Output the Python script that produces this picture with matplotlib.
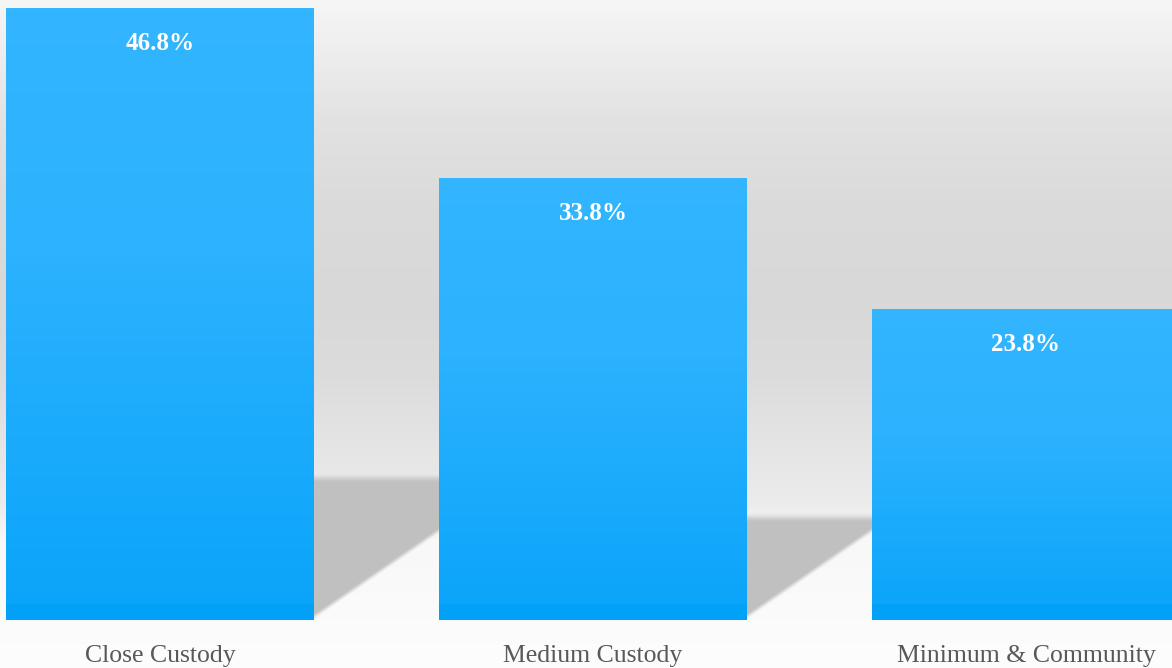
"""
Custody level bar chart with a soft wall/floor backdrop and cast shadows.
Output: out.png
"""

import numpy as np
import matplotlib
matplotlib.use("Agg")
import matplotlib.pyplot as plt
from matplotlib.colors import LinearSegmentedColormap

categories = ["Close Custody", "Medium Custody", "Minimum & Community"]
values = [46.8, 33.8, 23.8]
value_labels = ["46.8%", "33.8%", "23.8%"]

W, H, DPI = 1172, 668, 100
BASE_PX = 620          # baseline, pixels from the top
PX_PER_UNIT = 13.06    # vertical scale, pixels per percent
SLOT_PX = 433          # distance between category centres
BAR_PX = 308
FIRST_CENTER_PX = 160
BAND_PX = 16           # darker strip at the foot of each bar


def smooth(t):
    t = np.clip(t, 0, 1)
    return t * t * (3 - 2 * t)


fig = plt.figure(figsize=(W / DPI, H / DPI), dpi=DPI)

# backdrop: grey wall fading into a pale floor
bg_ax = fig.add_axes([0, 0, 1, 1])
stop_y = [0, 50, 120, 200, 300, 380, 440, 505, 540, 620, 668]
stop_v = [246, 238, 226, 219, 216, 220, 228, 236, 248, 251, 253]
rows = np.interp(np.arange(H), stop_y, stop_v) / 255
bg = np.repeat(rows[:, None], 4, axis=1)
bg_ax.imshow(np.dstack([bg, bg, bg]), aspect="auto", extent=[0, 1, 0, 1], origin="upper")
bg_ax.axis("off")

# chart axes: baseline at BASE_PX, full width
ax = fig.add_axes([0, (H - BASE_PX) / H, 1, BASE_PX / H])
ax.patch.set_visible(False)
ymax = BASE_PX / PX_PER_UNIT
xmin = -FIRST_CENTER_PX / SLOT_PX
xmax = (W - FIRST_CENTER_PX) / SLOT_PX

x = np.arange(len(categories))
bars = ax.bar(x, values, width=BAR_PX / SLOT_PX, color="none", zorder=3)

# cast shadows behind each bar
gx = np.linspace(xmin, xmax, W)
gy = np.linspace(0, ymax, BASE_PX)
X, Y = np.meshgrid(gx, gy)
slope = 0.69 * SLOT_PX / PX_PER_UNIT
alpha = np.zeros_like(X)
for p, v in zip(bars, values):
    xr = p.get_x() + p.get_width()
    top = 0.232 * v
    a_top = smooth((top - Y) / 0.8 + 0.5)
    a_diag = smooth((Y - 0.23 - slope * (X - xr)) / 0.55 + 0.5)
    alpha = np.maximum(alpha, a_top * a_diag * (X >= xr))
shade = np.zeros((BASE_PX, W, 4))
shade[..., :3] = 0.753
shade[..., 3] = alpha
ax.imshow(shade, extent=[xmin, xmax, 0, ymax], origin="lower", aspect="auto",
          zorder=1, interpolation="bilinear")

# gradient fill for the bars: light top, deeper towards the foot
bar_cmap = LinearSegmentedColormap.from_list(
    "bar", [(0, "#09a4fa"), (0.3, "#1babfc"), (0.6, "#2cb2fe"), (1, "#33b5ff")])
for p in bars:
    x0, w, h = p.get_x(), p.get_width(), p.get_height()
    n = int(round(h * PX_PER_UNIT))
    rgba = bar_cmap(np.linspace(0, 1, n))
    rgba[:BAND_PX] = matplotlib.colors.to_rgba("#00a1f7")
    ax.imshow(rgba[:, None, :], extent=[x0, x0 + w, 0, h], origin="lower",
              aspect="auto", zorder=2, interpolation="nearest")

for xi, v, lab in zip(x, values, value_labels):
    ax.annotate(lab, (xi, v), xytext=(0, -35 * 72 / DPI), textcoords="offset points",
                ha="center", va="center", color="white", fontweight="bold",
                fontsize=18, family="Liberation Serif", zorder=4)

for xi, cat in zip(x, categories):
    ax.text(xi, -42 / BASE_PX, cat, transform=ax.get_xaxis_transform(),
            ha="center", va="baseline", color="#595959", fontsize=18.5,
            family="Liberation Serif", clip_on=False)

ax.set_xlim(xmin, xmax)
ax.set_ylim(0, ymax)
ax.axis("off")

fig.savefig("out.png", dpi=DPI)
plt.close(fig)
